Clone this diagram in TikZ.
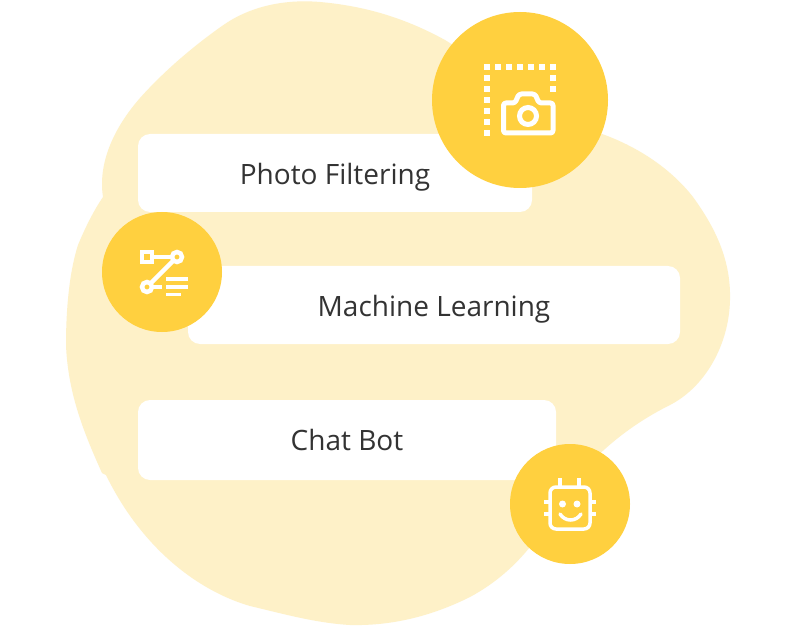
\documentclass[tikz,border=0pt]{standalone}
\usepackage{fontspec}
\setmainfont{Open Sans}
\definecolor{blobc}{HTML}{FEF1C8}
\definecolor{discc}{HTML}{FFD03F}
\definecolor{txtc}{HTML}{333333}
\tikzset{
  x=1pt,y=-1pt,
  cardbox/.style={fill=white,rounded corners=12pt,inner sep=0pt,text=txtc,font=\fontsize{28}{32}\selectfont,text height=22pt,text depth=0pt},
  disc/.style={circle,fill=discc,inner sep=0pt},
  icon/.style={draw=white,line width=#1,fill=none},
  icon/.default=4pt
}
\begin{document}
\begin{tikzpicture}
\useasboundingbox (0,0) rectangle (800,628);
\fill[white] (0,0) rectangle (800,628);
% blob
\fill[blobc] (103,197) .. controls (98,165) and (112,130) .. (140,98)
 .. controls (165,70) and (195,45) .. (222,26)
 .. controls (250,6) and (285,-1) .. (320,2)
 .. controls (365,6) and (405,18) .. (445,40)
 -- (590,130)
 .. controls (630,142) and (668,165) .. (693,197)
 .. controls (717,230) and (731,262) .. (730,300)
 .. controls (729,345) and (705,387) .. (670,405)
 .. controls (630,425) and (600,450) .. (570,485)
 .. controls (545,530) and (520,570) .. (470,597)
 .. controls (430,617) and (390,626) .. (350,625)
 .. controls (315,623) and (280,613) .. (250,606)
 .. controls (195,590) and (140,545) .. (106,475)
 -- (102,473)
 .. controls (85,435) and (68,395) .. (66,345)
 .. controls (66,305) and (70,270) .. (78,245)
 .. controls (85,228) and (94,210) .. (103,197) -- cycle;
% cards
\node[cardbox,minimum width=394pt,minimum height=78pt,text height=24pt] (photo) at (335,173) {Photo Filtering};
\node[cardbox,minimum width=492pt,minimum height=78pt] (ml) at (434,305) {Machine Learning};
\node[cardbox,minimum width=418pt,minimum height=80pt,text height=20pt] (chat) at (347,440) {Chat Bot};
% discs
\node[disc,minimum size=176pt] (camdisc) at (520,100) {};
\node[disc,minimum size=120pt] (flowdisc) at (162,272) {};
\node[disc,minimum size=120pt] (botdisc) at (570,504) {};
% camera icon
\foreach \x in {487,498,509,520,531,542,553} \fill[white] (\x-2.75,64.25) rectangle (\x+2.75,69.75);
\foreach \y in {78,89,100,111,122,133} \fill[white] (484.25,\y-2.75) rectangle (489.75,\y+2.75);
\foreach \y in {78,89} \fill[white] (550.25,\y-2.75) rectangle (555.75,\y+2.75);
\draw[icon=5pt,line join=round,rounded corners=2.5pt] (503.5,103) -- (515,103) -- (519,94) -- (535,94) -- (539,103) -- (553,103) -- (553,133) -- (503.5,133) -- cycle;
\draw[icon=5pt] (528,116) circle (8.5);
% flow icon
\draw[icon=4.5pt] (142.2,252.2) rectangle (152.2,262.2);
\draw[icon=4.5pt] (154,257) -- (171.5,257);
\draw[icon=4.5pt] (177,257) circle (5);
\draw[icon=4.5pt] (173,261) -- (151,283);
\draw[icon=4.5pt] (147,287) circle (5);
\draw[icon=4.5pt] (152,287) -- (162,287);
\draw[icon=3.5pt] (166,279) -- (188,279);
\draw[icon=3.5pt] (166,287) -- (188,287);
\draw[icon=3.5pt] (166,294.5) -- (181,294.5);
% bot icon
\draw[icon=3.5pt,rounded corners=6pt] (550,487) rectangle (590,529);
\draw[icon=3.5pt] (560,478) -- (560,487);
\draw[icon=3.5pt] (579,478) -- (579,487);
\draw[icon=3.5pt] (544,502) -- (550,502);
\draw[icon=3.5pt] (544,514) -- (550,514);
\draw[icon=3.5pt] (590,502) -- (596,502);
\draw[icon=3.5pt] (590,514) -- (596,514);
\fill[white] (562.5,504) circle (3.5);
\fill[white] (577,504) circle (3.5);
\draw[icon=3.5pt,line cap=round] (560,514) .. controls (565,522) and (576,522) .. (581,514);
\end{tikzpicture}
\end{document}
